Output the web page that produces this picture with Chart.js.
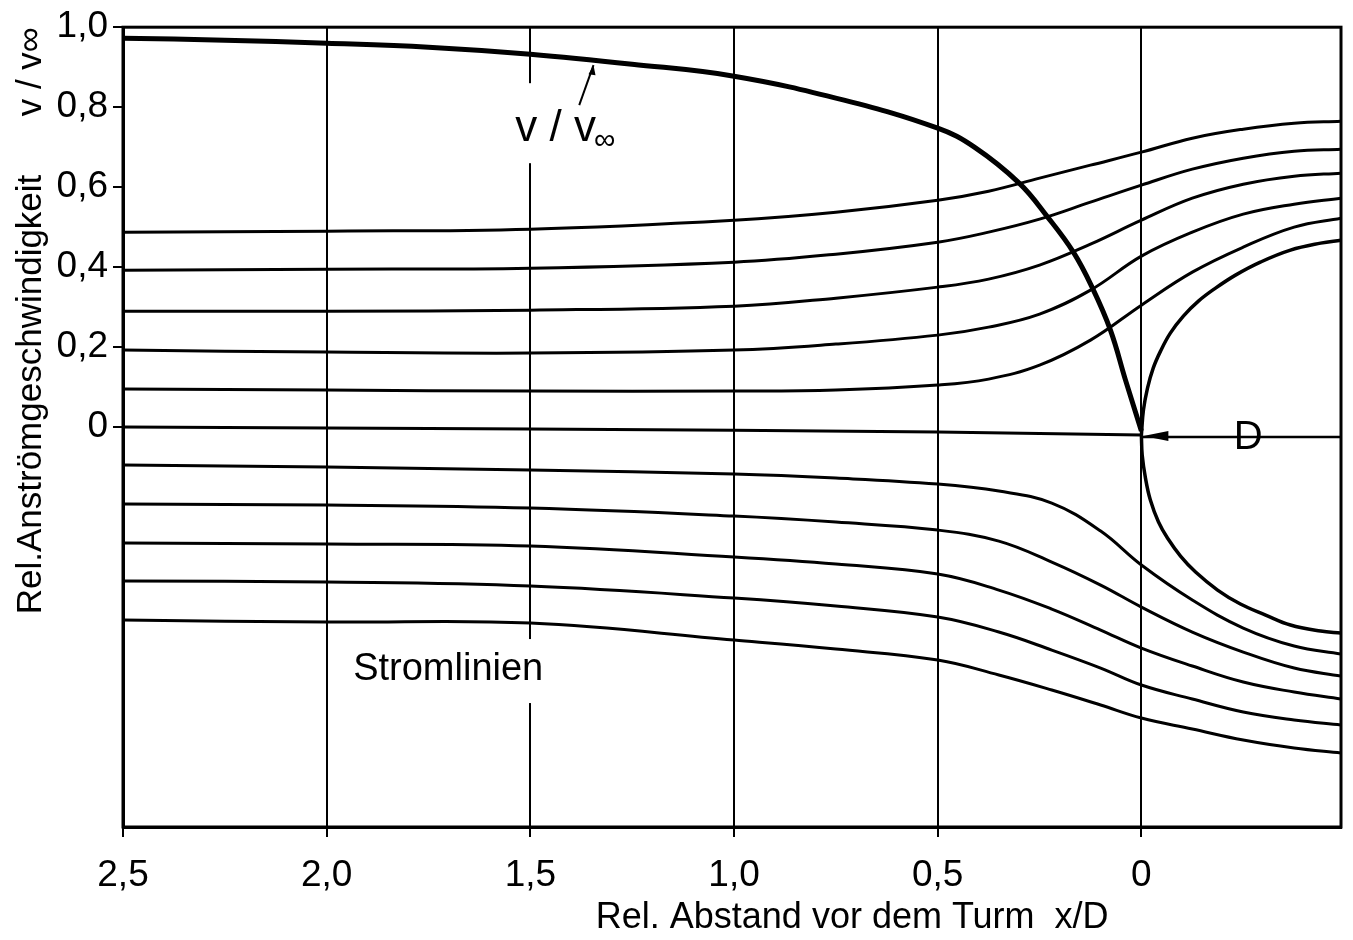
<!DOCTYPE html>
<html>
<head>
<meta charset="utf-8">
<script src="https://cdn.jsdelivr.net/npm/chart.js@4.4.1/dist/chart.umd.min.js"></script>
<style>
  html, body { margin: 0; padding: 0; background: #fff; }
</style>
</head>
<body>
<canvas id="chart" width="1353" height="940"></canvas>
<script>
// axis ticks (x runs backwards: distance in front of the tower)
const xTickValues = [2.5, 2.0, 1.5, 1.0, 0.5, 0];
const xTickText = ['2,5', '2,0', '1,5', '1,0', '0,5', '0'];
const yTickValues = [0, 0.2, 0.4, 0.6, 0.8, 1.0];
const yTickText = ['0', '0,2', '0,4', '0,6', '0,8', '1,0'];

// relative inflow velocity v/v∞
const velX = [2.5, 2.25, 2.0, 1.75, 1.5, 1.25, 1.0, 0.73, 0.5, 0.41, 0.3, 0.23, 0.167, 0.12, 0.076, 0.039, 0];
const velY = [0.9725, 0.9675, 0.96, 0.95, 0.9325, 0.9075, 0.8775, 0.8175, 0.7475, 0.70, 0.61, 0.525, 0.4375, 0.3475, 0.2425, 0.1175, -0.01];

// streamlines above the axis
const upperX = [2.5, 2.0, 1.5, 1.0, 0.75, 0.5, 0.375, 0.25, 0.125, 0, -0.125, -0.25, -0.375, -0.49];
const upper1 = [0.4875, 0.49, 0.495, 0.5175, 0.5375, 0.5675, 0.59, 0.6225, 0.655, 0.6875, 0.7225, 0.745, 0.76, 0.765];
const upper2 = [0.3925, 0.395, 0.3975, 0.4125, 0.4325, 0.4625, 0.4875, 0.52, 0.5625, 0.605, 0.645, 0.6725, 0.69, 0.695];
const upper3 = [0.29, 0.29, 0.2925, 0.3025, 0.3225, 0.35, 0.37, 0.405, 0.4575, 0.5175, 0.5725, 0.6075, 0.6275, 0.635];
const upper4 = [0.1925, 0.1875, 0.185, 0.1925, 0.2075, 0.23, 0.25, 0.2825, 0.3425, 0.4275, 0.4875, 0.5325, 0.5575, 0.5725];
const upper5 = [0.095, 0.0925, 0.09, 0.09, 0.0925, 0.105, 0.12, 0.155, 0.2175, 0.305, 0.3875, 0.45, 0.5, 0.5225];

// streamlines below the axis
const lowerX = [2.5, 2.0, 1.5, 1.0, 0.75, 0.5, 0.35, 0.22, 0.1, 0, -0.125, -0.25, -0.375, -0.49];
const lower1 = [-0.095, -0.1, -0.1075, -0.1175, -0.1275, -0.1425, -0.16, -0.19, -0.26, -0.345, -0.4325, -0.5025, -0.5475, -0.5675];
const lower2 = [-0.1925, -0.195, -0.2025, -0.2225, -0.2375, -0.2575, -0.285, -0.3375, -0.395, -0.45, -0.5125, -0.5625, -0.6025, -0.6225];
const lower3 = [-0.29, -0.2925, -0.2975, -0.325, -0.3425, -0.3675, -0.4075, -0.455, -0.5075, -0.5525, -0.5975, -0.6375, -0.6625, -0.68];
const lower4 = [-0.385, -0.3875, -0.3975, -0.4275, -0.4475, -0.475, -0.5125, -0.5575, -0.6025, -0.645, -0.68, -0.7125, -0.7325, -0.745];
const lower5 = [-0.4825, -0.4875, -0.49, -0.5325, -0.555, -0.5825, -0.62, -0.6575, -0.695, -0.7275, -0.755, -0.7825, -0.8025, -0.815];

// centre streamline and the dividing streamline round the tower
const zeroX = [2.5, 1.5, 0.5, 0];
const zeroY = [0, -0.005, -0.0125, -0.02];
const dimX = [0, -0.49];
const dimY = [-0.025, -0.025];
const towerUpX = [0, -0.005, -0.015, -0.029, -0.047, -0.071, -0.103, -0.14, -0.182, -0.231, -0.292, -0.366, -0.44, -0.49];
const towerUpY = [-0.02, 0.0425, 0.0975, 0.1475, 0.19, 0.235, 0.2775, 0.315, 0.3475, 0.38, 0.4125, 0.4425, 0.46, 0.4675];
const towerLowX = [0, -0.002, -0.01, -0.022, -0.042, -0.064, -0.096, -0.133, -0.187, -0.243, -0.305, -0.366, -0.44, -0.49];
const towerLowY = [-0.02, -0.07, -0.1275, -0.1825, -0.2375, -0.2775, -0.3225, -0.3625, -0.4075, -0.4425, -0.47, -0.495, -0.51, -0.515];

const FONT = "'Liberation Sans', 'DejaVu Sans', sans-serif";

function line(xs, ys, width) {
    return {
        data: xs.map((x, i) => ({ x: x, y: ys[i] })),
        borderColor: '#000',
        borderWidth: width,
        pointRadius: 0,
        tension: 0.4,
        showLine: true,
        fill: false
    };
}

// labels drawn on top of the plot (white box hides the grid behind them)
const notes = {
    id: 'notes',
    beforeDatasetsDraw(chart) {
        const c = chart.ctx, xs = chart.scales.x, ys = chart.scales.y;
        c.save();
        c.fillStyle = '#fff';
        // v/v∞ label, Stromlinien, D
        c.fillRect(xs.getPixelForValue(1.55), ys.getPixelForValue(0.86), 100, 80);
        c.fillRect(xs.getPixelForValue(1.96), ys.getPixelForValue(-0.53), 215, 64);
        c.fillRect(xs.getPixelForValue(-0.215), ys.getPixelForValue(0.02), 38, 36);
        c.restore();
    },
    afterDatasetsDraw(chart) {
        const c = chart.ctx, xs = chart.scales.x, ys = chart.scales.y;
        c.save();
        c.fillStyle = '#000';
        c.strokeStyle = '#000';

        // frame round the plot
        const a = chart.chartArea;
        c.lineWidth = 3;
        c.strokeRect(a.left, a.top, a.right - a.left, a.bottom - a.top);

        // v / v∞ label with pointer
        c.font = '44px ' + FONT;
        c.textBaseline = 'alphabetic';
        c.textAlign = 'left';
        const lx = xs.getPixelForValue(1.537), ly = ys.getPixelForValue(0.715);
        c.fillText('v / v', lx, ly);
        const w = c.measureText('v / v').width;
        c.font = '30px ' + FONT;
        c.fillText('∞', lx + w - 2, ly + 8);
        c.lineWidth = 2;
        const p0x = xs.getPixelForValue(1.38), p0y = ys.getPixelForValue(0.805);
        const p1x = xs.getPixelForValue(1.345), p1y = ys.getPixelForValue(0.905);
        c.beginPath(); c.moveTo(p0x, p0y); c.lineTo(p1x, p1y); c.stroke();
        c.beginPath();
        c.moveTo(p1x, p1y); c.lineTo(p1x - 5, p1y + 9); c.lineTo(p1x + 2, p1y + 10);
        c.closePath(); c.fill();

        // Stromlinien
        c.font = '38px ' + FONT;
        c.fillText('Stromlinien', xs.getPixelForValue(1.935), ys.getPixelForValue(-0.6325));

        // D with arrow pointing to the stagnation point
        c.font = '40px ' + FONT;
        c.textAlign = 'center';
        c.textBaseline = 'middle';
        c.fillText('D', xs.getPixelForValue(-0.262), ys.getPixelForValue(-0.028));
        const tx = xs.getPixelForValue(0), ty = ys.getPixelForValue(-0.022);
        c.beginPath();
        c.moveTo(tx + 2, ty); c.lineTo(tx + 27, ty - 5); c.lineTo(tx + 27, ty + 5);
        c.closePath(); c.fill();

        // x axis title
        c.font = '36px ' + FONT;
        c.textAlign = 'center';
        c.textBaseline = 'alphabetic';
        c.fillText('Rel. Abstand vor dem Turm  x/D', xs.getPixelForValue(0.71), chart.height - 12);
        c.restore();
    }
};

new Chart(document.getElementById('chart'), {
    type: 'scatter',
    data: {
        datasets: [
            line(upperX, upper1, 3),
            line(upperX, upper2, 3),
            line(upperX, upper3, 3),
            line(upperX, upper4, 3),
            line(upperX, upper5, 3),
            line(zeroX, zeroY, 3),
            line(dimX, dimY, 2.5),
            line(lowerX, lower1, 3),
            line(lowerX, lower2, 3),
            line(lowerX, lower3, 3),
            line(lowerX, lower4, 3),
            line(lowerX, lower5, 3),
            line(towerUpX, towerUpY, 3.5),
            line(towerLowX, towerLowY, 3.5),
            line(velX, velY, 5)
        ]
    },
    options: {
        responsive: false,
        animation: false,
        devicePixelRatio: 1,
        layout: { padding: { left: 0, right: 12, top: 27, bottom: 0 } },
        plugins: { legend: { display: false }, tooltip: { enabled: false } },
        scales: {
            x: {
                type: 'linear',
                reverse: true,
                min: -0.49,
                max: 2.5,
                afterBuildTicks: s => { s.ticks = xTickValues.map(v => ({ value: v })); },
                afterFit: s => { s.height = 113; },
                ticks: {
                    callback: v => xTickText[xTickValues.indexOf(v)],
                    font: { family: FONT, size: 37 },
                    color: '#000',
                    padding: 17,
                    maxRotation: 0,
                    autoSkip: false
                },
                grid: { color: '#000', lineWidth: 2, tickLength: 10 },
                border: { color: '#000', width: 3 }
            },
            y: {
                type: 'linear',
                min: -1,
                max: 1,
                afterBuildTicks: s => { s.ticks = yTickValues.map(v => ({ value: v })); },
                afterFit: s => { s.width = 123; },
                ticks: {
                    callback: v => yTickText[yTickValues.indexOf(v)],
                    font: { family: FONT, size: 37 },
                    color: '#000',
                    padding: 5
                },
                grid: { drawOnChartArea: false, color: '#000', lineWidth: 2, tickLength: 10 },
                border: { color: '#000', width: 3 },
                title: {
                    display: true,
                    text: 'Rel.Anströmgeschwindigkeit      v / v∞',
                    align: 'end',
                    color: '#000',
                    font: { family: FONT, size: 35 },
                    padding: { top: 10, bottom: 0 }
                }
            }
        }
    },
    plugins: [notes]
});
</script>
</body>
</html>
